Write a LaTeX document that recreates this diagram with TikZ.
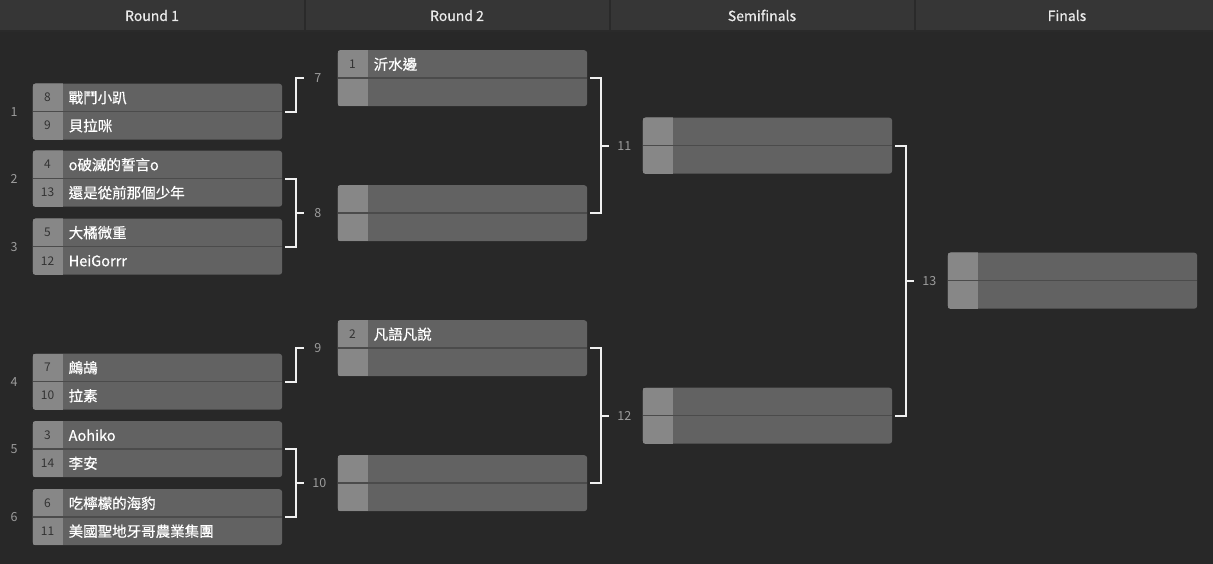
\documentclass[tikz,border=0pt]{standalone}
\usepackage{fontspec}
\setmainfont{Noto Sans CJK TC}
\newfontfamily\namefont{Noto Sans CJK TC}[FakeBold=0.6]
\usetikzlibrary{calc,positioning}

\definecolor{pagebg}{HTML}{282828}
\definecolor{headbg}{HTML}{363636}
\definecolor{headrule}{HTML}{2A2A2A}
\definecolor{boxmain}{HTML}{626262}
\definecolor{boxseed}{HTML}{878787}
\definecolor{boxrule}{HTML}{4B4B4B}
\definecolor{labelgray}{HTML}{9C9C9C}
\definecolor{seedgray}{HTML}{333333}
\definecolor{linewhite}{HTML}{F0F0F0}

\tikzset{
  matchbg/.style={fill=boxmain,rounded corners=3pt,minimum width=249.5pt,
    minimum height=56pt,inner sep=0pt},
  sepline/.style={draw=boxrule,line width=1.5pt},
  seedtxt/.style={text=seedgray,font=\fontsize{12}{14}\selectfont,inner sep=0pt},
  nametxt/.style={text=white,font=\namefont\fontsize{14.5}{16}\selectfont,anchor=west,inner sep=0pt},
  headtxt/.style={text=white!92!black,font=\namefont\fontsize{14}{16}\selectfont},
  matchnum/.style={text=labelgray,font=\fontsize{12.5}{14}\selectfont,inner sep=0pt},
  bracket/.style={draw=linewhite,line width=2pt},
}

\newcommand\matchbox[7]{%
  \node[matchbg,anchor=north west] (#1) at (#2,#3) {};
  \begin{scope}
    \clip[rounded corners=3pt] (#1.north west) rectangle (#1.south east);
    \fill[boxseed] (#1.north west) rectangle ([xshift=30pt]#1.south west);
  \end{scope}
  \draw[sepline] (#1.west) -- (#1.east);
  \node[seedtxt] at ([xshift=15pt,yshift=14pt]#1.west) {#4};
  \node[seedtxt] at ([xshift=15pt,yshift=-14pt]#1.west) {#6};
  \node[nametxt] at ([xshift=36pt,yshift=14pt]#1.west) {#5};
  \node[nametxt] at ([xshift=36pt,yshift=-14pt]#1.west) {#7};
}

\begin{document}
\begin{tikzpicture}[x=1pt,y=-1pt]
  \useasboundingbox (0,0) rectangle (1213,564);
  \fill[pagebg] (0,0) rectangle (1213,564);
  \fill[headbg] (0,0) rectangle (1213,31);
  \draw[headrule,line width=1.5pt] (0,31) -- (1213,31);
  \draw[headrule,line width=2pt] (304.5,0) -- (304.5,31);
  \draw[headrule,line width=2pt] (609.5,0) -- (609.5,31);
  \draw[headrule,line width=2pt] (914.5,0) -- (914.5,31);

  \node[headtxt] (h1) at (152,15.5) {Round 1};
  \node[headtxt] (h2) at (457,15.5) {Round 2};
  \node[headtxt] (h3) at (762,15.5) {Semifinals};
  \node[headtxt] (h4) at (1067,15.5) {Finals};

  \matchbox{m1}{32.5}{83.5}{8}{戰鬥小趴}{9}{貝拉咪}
  \matchbox{m2}{32.5}{150.5}{4}{o破滅的誓言o}{13}{還是從前那個少年}
  \matchbox{m3}{32.5}{218.5}{5}{大橘微重}{12}{HeiGorrr}
  \matchbox{m4}{32.5}{353.5}{7}{鷓鴣}{10}{拉素}
  \matchbox{m5}{32.5}{421}{3}{Aohiko}{14}{李安}
  \matchbox{m6}{32.5}{489}{6}{吃檸檬的海豹}{11}{美國聖地牙哥農業集團}

  \matchbox{m7}{337.5}{50}{1}{沂水邊}{}{}
  \matchbox{m8}{337.5}{185}{}{}{}{}
  \matchbox{m9}{337.5}{320}{2}{凡語凡說}{}{}
  \matchbox{m10}{337.5}{455}{}{}{}{}

  \matchbox{m11}{642.5}{117.5}{}{}{}{}
  \matchbox{m12}{642.5}{387.5}{}{}{}{}

  \matchbox{m13}{947.5}{252.5}{}{}{}{}

  \node[matchnum] at ([xshift=-18.5pt]m1.west) {1};
  \node[matchnum] at ([xshift=-18.5pt]m2.west) {2};
  \node[matchnum] at ([xshift=-18.5pt]m3.west) {3};
  \node[matchnum] at ([xshift=-18.5pt]m4.west) {4};
  \node[matchnum] at ([xshift=-18.5pt]m5.west) {5};
  \node[matchnum] at ([xshift=-18.5pt]m6.west) {6};

  \draw[bracket] ([xshift=3pt]m1.east) -| ([xshift=14pt]m1.east |- m7.west)
    -- ++(8,0) node[matchnum,right=9pt] {7};
  \draw[bracket] ([xshift=3pt]m2.east) -| ([xshift=14pt]m3.east) -- ([xshift=3pt]m3.east);
  \draw[bracket] ($([xshift=14pt]m2.east)!.5!([xshift=14pt]m3.east)$)
    -- ++(8,0) node[matchnum,right=9pt] {8};
  \draw[bracket] ([xshift=3pt]m4.east) -| ([xshift=14pt]m4.east |- m9.west)
    -- ++(8,0) node[matchnum,right=9pt] {9};
  \draw[bracket] ([xshift=3pt]m5.east) -| ([xshift=14pt]m6.east) -- ([xshift=3pt]m6.east);
  \draw[bracket] ($([xshift=14pt]m5.east)!.5!([xshift=14pt]m6.east)$)
    -- ++(8,0) node[matchnum,right=7pt] {10};

  \draw[bracket] ([xshift=3pt]m7.east) -| ([xshift=14pt]m8.east) -- ([xshift=3pt]m8.east);
  \draw[bracket] ($([xshift=14pt]m7.east)!.5!([xshift=14pt]m8.east)$)
    -- ++(8,0) node[matchnum,right=7pt] {11};
  \draw[bracket] ([xshift=3pt]m9.east) -| ([xshift=14pt]m10.east) -- ([xshift=3pt]m10.east);
  \draw[bracket] ($([xshift=14pt]m9.east)!.5!([xshift=14pt]m10.east)$)
    -- ++(8,0) node[matchnum,right=7pt] {12};

  \draw[bracket] ([xshift=3pt]m11.east) -| ([xshift=14pt]m12.east) -- ([xshift=3pt]m12.east);
  \draw[bracket] ($([xshift=14pt]m11.east)!.5!([xshift=14pt]m12.east)$)
    -- ++(8,0) node[matchnum,right=7pt] {13};
\end{tikzpicture}
\end{document}
